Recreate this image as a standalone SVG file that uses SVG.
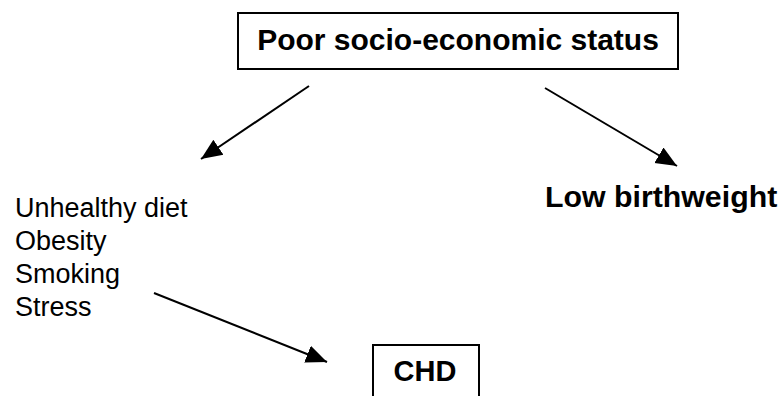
<svg xmlns="http://www.w3.org/2000/svg" width="780" height="396" viewBox="0 0 780 396">
<defs>
<style>
.box{fill:#fff;stroke:#000;stroke-width:2}
.bold{font-family:"Liberation Sans",Arial,sans-serif;font-weight:bold;fill:#000}
.reg{font-family:"Liberation Sans",Arial,sans-serif;font-size:27px;fill:#000}
.conn{stroke:#000;stroke-width:2;fill:none;marker-end:url(#arr)}
</style>
<marker id="arr" markerUnits="userSpaceOnUse" markerWidth="22" markerHeight="20" viewBox="0 0 22 20" refX="21" refY="10" orient="auto">
<path d="M0,1 L21,10 L0,19 Z" fill="#000"/>
</marker>
</defs>
<rect width="780" height="396" fill="#fff"/>
<g id="connectors">
<line class="conn" x1="309" y1="86" x2="201" y2="159"/>
<line class="conn" x1="545" y1="88" x2="677" y2="166"/>
<line class="conn" x1="154" y1="293" x2="327" y2="362"/>
</g>
<g id="poor-ses">
<rect class="box" x="238" y="13" width="440" height="56"/>
<text class="bold" x="458" y="50" font-size="30" text-anchor="middle">Poor socio-economic status</text>
</g>
<g id="lifestyle">
<text class="reg" x="15" y="217">Unhealthy diet</text>
<text class="reg" x="15" y="250">Obesity</text>
<text class="reg" x="15" y="283">Smoking</text>
<text class="reg" x="15" y="316">Stress</text>
</g>
<g id="low-birthweight">
<text class="bold" x="545" y="207" font-size="30.3">Low birthweight</text>
</g>
<g id="chd">
<rect class="box" x="373" y="345" width="106" height="60"/>
<text class="bold" x="425" y="381" font-size="29" text-anchor="middle">CHD</text>
</g>
</svg>
